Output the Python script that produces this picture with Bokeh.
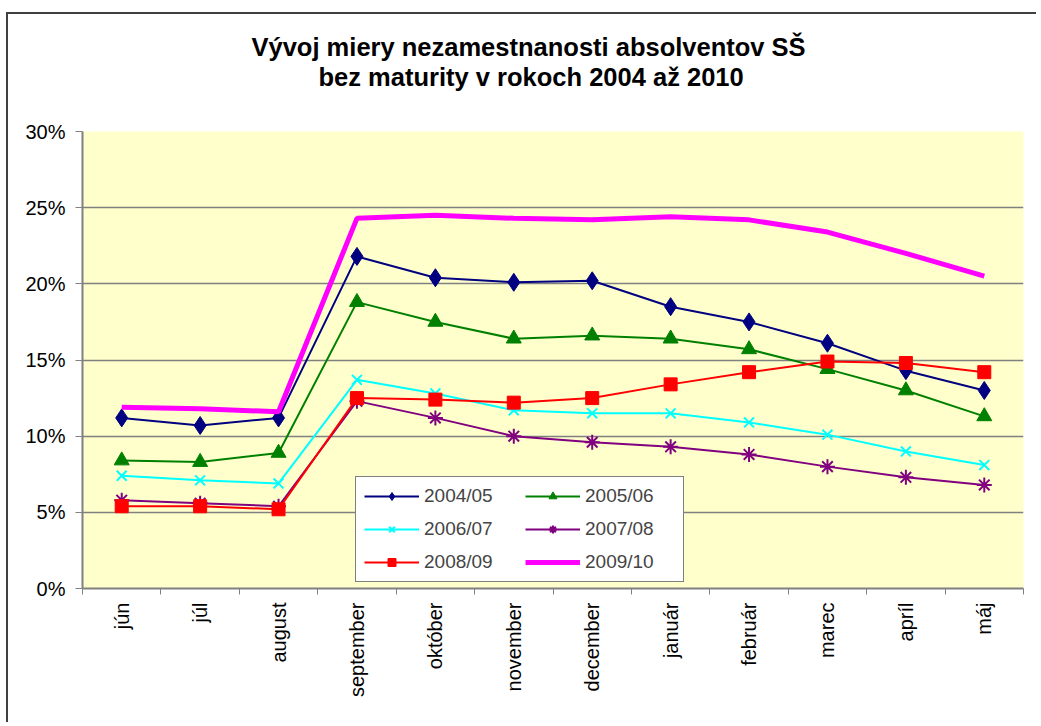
import math
from bokeh.plotting import figure
from bokeh.models import (FixedTicker, NumeralTickFormatter, Legend, LegendItem, Range1d, Title)
from bokeh.embed import file_html
from bokeh.resources import INLINE

months = ["jún", "júl", "august", "september", "október", "november", "december",
          "január", "február", "marec", "apríl", "máj"]
s0405 = [11.2, 10.7, 11.2, 21.8, 20.4, 20.1, 20.2, 18.5, 17.5, 16.1, 14.3, 13.0]
s0506 = [8.4, 8.3, 8.9, 18.8, 17.5, 16.4, 16.6, 16.4, 15.7, 14.4, 13.0, 11.3]
s0607 = [7.4, 7.1, 6.9, 13.7, 12.8, 11.7, 11.5, 11.5, 10.9, 10.1, 9.0, 8.1]
s0708 = [5.8, 5.6, 5.4, 12.3, 11.2, 10.0, 9.6, 9.3, 8.8, 8.0, 7.3, 6.8]
s0809 = [5.4, 5.4, 5.2, 12.5, 12.4, 12.2, 12.5, 13.4, 14.2, 14.9, 14.8, 14.2]
s0910 = [11.9, 11.8, 11.6, 24.3, 24.5, 24.3, 24.2, 24.4, 24.2, 23.4, 22.0, 20.5]
y_ticks = [0.0, 0.05, 0.10, 0.15, 0.20, 0.25, 0.30]
title_lines = ["Vývoj miery nezamestnanosti absolventov SŠ", "bez maturity v rokoch 2004 až 2010"]

xs = [i + 0.5 for i in range(len(months))]
FONT = "Liberation Sans"

p = figure(width=1030, height=710, output_backend="svg", toolbar_location=None,
           x_range=Range1d(0, 12), y_range=Range1d(0, 0.30),
           min_border_left=74, min_border_right=15, min_border_top=117, min_border_bottom=136,
           background_fill_color="#FFFFCC", border_fill_color="white")
p.styles = {"margin-left": "6px", "margin-top": "12px",
            "border-left": "2px solid #404040", "border-top": "2px solid #404040"}
p.outline_line_color = None

# title: two lines (plus an empty spacer line next to the frame)
p.title.text = title_lines[0]
p.title.align = "left"
p.title.offset = 169
p.title.text_font = FONT
p.title.text_font_size = "25.5px"
p.title.text_font_style = "bold"
p.title.text_color = "black"
p.title.standoff = 0
spacer = Title(text=" ", align="left", text_font=FONT, text_font_size="25.5px", standoff=11)
t2 = Title(text=title_lines[1], align="left", offset=236, text_font=FONT,
           text_font_size="25.5px", text_font_style="bold", text_color="black", standoff=0)
p.add_layout(spacer, "above")
p.add_layout(t2, "above")

# grid
p.xgrid.grid_line_color = None
p.ygrid.ticker = FixedTicker(ticks=y_ticks)
p.ygrid.grid_line_color = "#808080"
p.ygrid.grid_line_width = 1.5

# y axis
p.yaxis.ticker = FixedTicker(ticks=y_ticks)
p.yaxis.formatter = NumeralTickFormatter(format="0%")
p.yaxis.major_label_text_font = FONT
p.yaxis.major_label_text_font_size = "20px"
p.yaxis.major_label_text_color = "black"
p.yaxis.major_tick_out = 7
p.yaxis.major_tick_in = 0
p.yaxis.minor_tick_out = 0
p.yaxis.minor_tick_in = 0
p.yaxis.axis_line_color = "#808080"
p.yaxis.axis_line_width = 2
p.yaxis.major_tick_line_color = "#808080"
p.yaxis.major_label_standoff = 10

# x axis: labels at centers, tick marks at category boundaries (minor ticks)
p.xaxis.ticker = FixedTicker(ticks=xs, minor_ticks=list(range(13)))
p.xaxis.major_label_overrides = {x: m for x, m in zip(xs, months)}
p.xaxis.major_label_orientation = math.pi / 2
p.xaxis.major_label_text_font = FONT
p.xaxis.major_label_text_font_size = "20px"
p.xaxis.major_label_text_color = "black"
p.xaxis.major_tick_out = 0
p.xaxis.major_tick_in = 0
p.xaxis.minor_tick_out = 6
p.xaxis.minor_tick_in = 0
p.xaxis.minor_tick_line_color = "#808080"
p.xaxis.axis_line_color = "#808080"
p.xaxis.axis_line_width = 2
p.xaxis.major_label_standoff = 8

def pct(v):
    return [a / 100 for a in v]

r1l = p.line(xs, pct(s0405), line_color="#000080", line_width=2)
r1m = p.scatter(xs, pct(s0405), marker="diamond", size=18, fill_color="#000080", line_color="#000080")
r2l = p.line(xs, pct(s0506), line_color="#008000", line_width=2)
r2m = p.scatter(xs, pct(s0506), marker="triangle", size=15, fill_color="#008000", line_color="#008000")
r3l = p.line(xs, pct(s0607), line_color="#00FFFF", line_width=2)
r3m = p.scatter(xs, pct(s0607), marker="x", size=14, line_color="#00FFFF", line_width=2)
r4l = p.line(xs, pct(s0708), line_color="#800080", line_width=2)
r4m = p.scatter(xs, pct(s0708), marker="asterisk", size=15, line_color="#800080", line_width=2)
r5l = p.line(xs, pct(s0809), line_color="#FF0000", line_width=2)
r5m = p.scatter(xs, pct(s0809), marker="square", size=13, fill_color="#FF0000", line_color="#FF0000")
r6l = p.line(xs, pct(s0910), line_color="#FF00FF", line_width=5)

legend = Legend(items=[
    LegendItem(label="2004/05", renderers=[r1l, r1m]),
    LegendItem(label="2005/06", renderers=[r2l, r2m]),
    LegendItem(label="2006/07", renderers=[r3l, r3m]),
    LegendItem(label="2007/08", renderers=[r4l, r4m]),
    LegendItem(label="2008/09", renderers=[r5l, r5m]),
    LegendItem(label="2009/10", renderers=[r6l]),
], location=(273, 6), orientation="horizontal", ncols=2)
legend.label_text_font = FONT
legend.label_text_font_size = "19px"
legend.label_text_baseline = "bottom"
legend.glyph_width = 55
legend.glyph_height = 20
legend.spacing = 11
legend.label_height = 20
legend.label_width = 90
legend.padding = 8
legend.margin = 0
legend.border_line_color = "black"
legend.border_line_width = 1
legend.background_fill_color = "white"
legend.background_fill_alpha = 1
legend.label_standoff = 5
p.add_layout(legend, "center")

open("out.html", "w").write(file_html(p, INLINE))
